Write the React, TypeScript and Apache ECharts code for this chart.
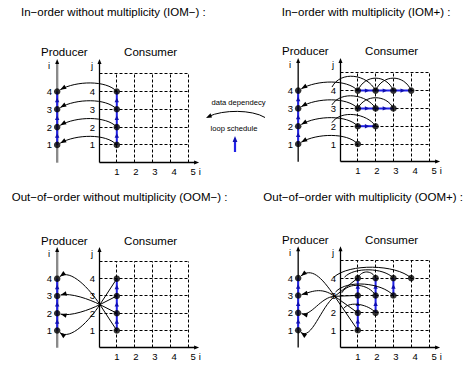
import React, { useEffect, useRef } from "react";
import * as echarts from "echarts";

const FONT = "'Liberation Sans', Arial, Helvetica, sans-serif";
const BLUE = "#2222e8";

// ---- data ----
const PRODUCER_X = -2.35;
const GRID_LEVELS = [1, 2, 3, 4, 5];
const X_TICKS = [1, 2, 3, 4, 5];
const Y_TICKS = [1, 2, 3, 4];
const PRODUCER_STEPS = [1, 2, 3, 4];

const TITLES = [
  "In\u2212order without multiplicity (IOM\u2212) :",
  "In\u2212order with multiplicity (IOM+) :",
  "Out\u2212of\u2212order without multiplicity (OOM\u2212) :",
  "Out\u2212of\u2212order with multiplicity (OOM+) :",
];

const IOM_MINUS_POINTS = [[1, 1], [1, 2], [1, 3], [1, 4]];
const IOM_PLUS_POINTS = [[1, 1], [1, 2], [2, 2], [1, 3], [2, 3], [3, 3], [1, 4], [2, 4], [3, 4], [4, 4]];
const OOM_MINUS_POINTS = [[1, 1], [1, 2], [1, 3], [1, 4]];
const OOM_PLUS_POINTS = [[1, 1], [1, 2], [1, 3], [1, 4], [2, 2], [2, 3], [2, 4], [3, 3], [3, 4], [4, 4]];

// loop schedule segments [i1, j1, i2, j2]
const IOM_MINUS_SCHEDULE = [[1, 1, 1, 4]];
const IOM_PLUS_SCHEDULE = [[1, 2, 2, 2], [1, 3, 3, 3], [1, 4, 4, 4]];
const OOM_MINUS_SCHEDULE = [[1, 1, 1, 4]];
const OOM_PLUS_SCHEDULE = [[1, 1, 1, 4], [2, 2, 2, 4], [3, 3, 3, 4]];

// producer links [consumer i, consumer j, producer i]
const IOM_MINUS_LINKS = [[1, 1, 1], [1, 2, 2], [1, 3, 3], [1, 4, 4]];
const IOM_PLUS_LINKS = [[1, 1, 1], [1, 2, 2], [1, 3, 3], [1, 4, 4]];
const OOM_MINUS_LINKS = [[1, 1, 4], [1, 2, 3], [1, 3, 2], [1, 4, 1]];
const OOM_PLUS_LINKS = [[1, 1, 4], [1, 2, 3], [1, 3, 2], [1, 4, 1]];

// crossing point of out-of-order links
const OOM_MINUS_CROSSING = [0.05, 2.5];
const OOM_PLUS_CROSSING = [-0.3, 2.95];

// forwarding arcs [from i, from j, to i, to j, height]
const IOM_PLUS_ARCS = [
  [-0.45, 2.2, 2, 2, 0.55],
  [-0.45, 3.2, 2, 3, 0.6],
  [1, 3, 3, 3, 0.6],
  [-0.45, 4.2, 2, 4, 0.7],
  [1, 4, 3, 4, 0.7],
  [2, 4, 4, 4, 0.7],
];
const OOM_PLUS_ARCS = [
  [-0.35, 4.05, 4, 4, 0.6],
  [0.25, 4.05, 3, 4, 0.45],
  [1, 4, 2, 4, 0.35],
  [0.1, 3.15, 2, 3, 0.5],
  [-0.25, 3.2, 3, 3, 0.55],
  [0.2, 2.25, 2, 2, 0.35],
];

// ---- layout ----
const UNIT = 17.8;
const GRID_W = 9 * UNIT;
const GRID_H = 8 * UNIT;

const PANELS = [
  { left: 45.6, top: 38.1, titleX: 21, titleY: 11.7, points: IOM_MINUS_POINTS, schedule: IOM_MINUS_SCHEDULE, links: IOM_MINUS_LINKS, arcs: [] as number[][], crossing: null as number[] | null, producerColor: "#8a8a8a", producerWidth: 2.4 },
  { left: 286.6, top: 37.2, titleX: 281.7, titleY: 11.7, points: IOM_PLUS_POINTS, schedule: IOM_PLUS_SCHEDULE, links: IOM_PLUS_LINKS, arcs: IOM_PLUS_ARCS, crossing: null, producerColor: "#000", producerWidth: 1.3 },
  { left: 45.6, top: 226.9, titleX: 11.7, titleY: 197, points: OOM_MINUS_POINTS, schedule: OOM_MINUS_SCHEDULE, links: OOM_MINUS_LINKS, arcs: [], crossing: OOM_MINUS_CROSSING, producerColor: "#8a8a8a", producerWidth: 2.4 },
  { left: 286.6, top: 225.9, titleX: 263.3, titleY: 197, points: OOM_PLUS_POINTS, schedule: OOM_PLUS_SCHEDULE, links: OOM_PLUS_LINKS, arcs: OOM_PLUS_ARCS, crossing: OOM_PLUS_CROSSING, producerColor: "#000", producerWidth: 1.3 },
];

const crisp = (v: number) => Math.round(v - 0.5) + 0.5;
const crispPt = (a: number[]) => [crisp(a[0]), crisp(a[1])];

function head(tip: number[], from: number[], len: number, half: number, color: string) {
  const dx = tip[0] - from[0];
  const dy = tip[1] - from[1];
  const d = Math.hypot(dx, dy) || 1;
  const ux = dx / d;
  const uy = dy / d;
  const bx = tip[0] - ux * len;
  const by = tip[1] - uy * len;
  return {
    type: "polygon",
    shape: { points: [[tip[0], tip[1]], [bx - uy * half, by + ux * half], [bx + uy * half, by - ux * half]] },
    style: { fill: color, stroke: "none" },
  };
}

function txt(x: number, y: number, text: string, size: number, align: string, valign = "middle") {
  return {
    type: "text",
    x,
    y,
    style: { text, fill: "#000", fontSize: size, fontFamily: FONT, align, verticalAlign: valign },
  };
}

function bez(a: number[], c1: number[], c2: number[], b: number[], color = "#000", w = 1) {
  return {
    type: "bezierCurve",
    shape: { x1: a[0], y1: a[1], x2: b[0], y2: b[1], cpx1: c1[0], cpy1: c1[1], cpx2: c2[0], cpy2: c2[1] },
    style: { stroke: color, fill: "none", lineWidth: w },
  };
}

function seg(a: number[], b: number[], color: string, w: number, dash?: number[]) {
  return {
    type: "line",
    shape: { x1: a[0], y1: a[1], x2: b[0], y2: b[1] },
    style: { stroke: color, fill: "none", lineWidth: w, lineDash: dash || null },
  };
}

function buildPanelSeries(g: number, p: (typeof PANELS)[number]) {
  const series: any[] = [];
  // dashed grid
  series.push({
    type: "custom",
    xAxisIndex: g,
    yAxisIndex: g,
    z: 1,
    silent: true,
    data: GRID_LEVELS.map((v) => [v]),
    renderItem: (_params: any, api: any) => {
      const v = api.value(0);
      return {
        type: "group",
        children: [
          seg(crispPt(api.coord([v, 0])), crispPt(api.coord([v, 5])), "#000", 1, [3, 2]),
          seg(crispPt(api.coord([0, v])), crispPt(api.coord([5, v])), "#000", 1, [3, 2]),
        ],
      };
    },
  });
  // axes, ticks and names
  series.push({
    type: "custom",
    xAxisIndex: g,
    yAxisIndex: g,
    z: 2,
    silent: true,
    data: [[0, 0]],
    renderItem: (_params: any, api: any) => {
      const o = crispPt(api.coord([0, 0]));
      const xe = [api.coord([5.4, 0])[0], o[1]];
      const ye = [o[0], api.coord([0, 5.6])[1]];
      const pb = api.coord([PRODUCER_X, 0]);
      const pt = api.coord([PRODUCER_X, 5.6]);
      const children: any[] = [
        seg(o, xe, "#000", 1.3),
        head([xe[0] + 4, xe[1]], xe, 5, 2, "#000"),
        seg(o, ye, "#000", 1.3),
        head([ye[0], ye[1] - 4], ye, 5, 2, "#000"),
        seg(pb, pt, p.producerColor, p.producerWidth),
        head([pt[0], pt[1] - 4], pt, 5, 2, "#000"),
      ];
      X_TICKS.forEach((v) => {
        const c = api.coord([v, 0]);
        children.push(txt(c[0] + (v - 1) * 1.3, c[1] + 8.5, String(v), 9.5, "center"));
      });
      const last = api.coord([X_TICKS[X_TICKS.length - 1], 0]);
      children.push(txt(last[0] + (X_TICKS.length - 1) * 1.3 + 6.5, last[1] + 8.5, "i", 9.5, "center"));
      Y_TICKS.forEach((v) => {
        const c = api.coord([0, v]);
        children.push(txt(c[0] - 4, c[1], String(v), 9.5, "right"));
      });
      PRODUCER_STEPS.forEach((v) => {
        const c = api.coord([PRODUCER_X, v]);
        children.push(txt(c[0] - 5, c[1], String(v), 9.5, "right"));
      });
      const pn = api.coord([PRODUCER_X, 5.45]);
      children.push(txt(pn[0] - 8, pn[1], "i", 9.5, "center"));
      const jn = api.coord([0, 5.45]);
      children.push(txt(jn[0] - 7, jn[1], "j", 9.5, "center"));
      const pl = api.coord([-1.95, 6.2]);
      children.push(txt(pl[0], pl[1], "Producer", 11.5, "center"));
      const cl = api.coord([2.9, 6.2]);
      children.push(txt(cl[0], cl[1], "Consumer", 11.5, "center"));
      return { type: "group", children };
    },
  });
  // loop schedule (blue)
  const producerSchedule = [PRODUCER_X, PRODUCER_STEPS[0], PRODUCER_X, PRODUCER_STEPS[PRODUCER_STEPS.length - 1]];
  series.push({
    type: "custom",
    xAxisIndex: g,
    yAxisIndex: g,
    z: 3,
    silent: true,
    data: [producerSchedule, ...p.schedule],
    renderItem: (_params: any, api: any) => {
      const x1 = api.value(0), y1 = api.value(1), x2 = api.value(2), y2 = api.value(3);
      const len = Math.hypot(x2 - x1, y2 - y1);
      const ux = (x2 - x1) / len, uy = (y2 - y1) / len;
      const children: any[] = [seg(api.coord([x1, y1]), api.coord([x2, y2]), BLUE, 2)];
      const n = Math.round(len);
      for (let k = 0; k < n; k++) {
        const mx = x1 + ux * (k + 0.5), my = y1 + uy * (k + 0.5);
        children.push(head(api.coord([mx + ux * 0.15, my + uy * 0.15]), api.coord([mx, my]), 4.5, 2.2, "#1010b0"));
      }
      return { type: "group", children };
    },
  });
  // forwarding arcs
  if (p.arcs.length) {
    series.push({
      type: "custom",
      xAxisIndex: g,
      yAxisIndex: g,
      z: 4,
      silent: true,
      data: p.arcs,
      renderItem: (_params: any, api: any) => {
        const x1 = api.value(0), y1 = api.value(1), x2 = api.value(2), y2 = api.value(3), h = api.value(4);
        const k = h / 0.75;
        const span = x2 - x1;
        return bez(
          api.coord([x1, y1]),
          api.coord([x1 + span * 0.2, y1 + k]),
          api.coord([x2 - span * 0.2, y2 + k]),
          api.coord([x2, y2])
        );
      },
    });
  }
  // producer links
  const crossing = p.crossing;
  series.push({
    type: "custom",
    xAxisIndex: g,
    yAxisIndex: g,
    z: 5,
    silent: true,
    data: p.links,
    renderItem: (_params: any, api: any) => {
      const ci = api.value(0), cj = api.value(1), pi = api.value(2);
      const children: any[] = [];
      let startV: number[];
      let cp1V: number[];
      let cp2V: number[];
      if (crossing) {
        startV = crossing;
        cp1V = [crossing[0] + (crossing[0] - ci) * 0.6, crossing[1] + (crossing[1] - cj) * 0.6];
        cp2V = [PRODUCER_X + 0.75, pi + (pi - 2.5) * 0.4];
        children.push(seg(api.coord([ci, cj]), api.coord(crossing), "#000", 1));
      } else {
        startV = [ci, cj];
        cp1V = [ci - 0.6, cj + 0.65];
        cp2V = [PRODUCER_X + 1.05, pi + 0.6];
      }
      const dx = cp2V[0] - PRODUCER_X, dy = cp2V[1] - pi;
      const dl = Math.hypot(dx, dy) || 1;
      const endV = [PRODUCER_X + (dx / dl) * 0.2, pi + (dy / dl) * 0.2];
      const end = api.coord(endV);
      const c2 = api.coord(cp2V);
      children.push(bez(api.coord(startV), api.coord(cp1V), c2, end));
      children.push(head(end, c2, 6, 2.3, "#000"));
      return { type: "group", children };
    },
  });
  // dots
  series.push({
    type: "scatter",
    xAxisIndex: g,
    yAxisIndex: g,
    z: 10,
    silent: true,
    symbolSize: 6.5,
    itemStyle: { color: "#000" },
    data: [...p.points, ...PRODUCER_STEPS.map((v) => [PRODUCER_X, v])],
  });
  return series;
}

function buildOption() {
  const series: any[] = [];
  PANELS.forEach((p, g) => series.push(...buildPanelSeries(g, p)));
  const graphic: any[] = PANELS.map((p, g) => ({
    type: "text",
    x: p.titleX,
    y: p.titleY,
    style: { text: TITLES[g], fill: "#000", fontSize: 11.5, fontFamily: FONT, align: "left", verticalAlign: "middle" },
  }));
  // legend
  graphic.push({
    type: "text", x: 238.5, y: 102.3,
    style: { text: "data dependecy", fill: "#000", fontSize: 7.6, fontFamily: FONT, align: "center", verticalAlign: "middle" },
  });
  graphic.push({
    type: "bezierCurve",
    shape: { x1: 265, y1: 117.5, cpx1: 252, cpy1: 109.5, cpx2: 223, cpy2: 109.5, x2: 208.5, y2: 116.5 },
    style: { stroke: "#000", fill: "none", lineWidth: 1 },
  });
  graphic.push({
    type: "polygon",
    shape: { points: [[206, 118], [210.5, 113.2], [212, 117.6]] },
    style: { fill: "#000" },
  });
  graphic.push({
    type: "text", x: 234, y: 128.3,
    style: { text: "loop schedule", fill: "#000", fontSize: 7.6, fontFamily: FONT, align: "center", verticalAlign: "middle" },
  });
  graphic.push({ type: "line", shape: { x1: 235, y1: 152, x2: 235, y2: 140 }, style: { stroke: BLUE, lineWidth: 2.2 } });
  graphic.push({ type: "polygon", shape: { points: [[235, 136], [232.6, 142], [237.4, 142]] }, style: { fill: "#1010b0" } });

  return {
    animation: false,
    backgroundColor: "#fff",
    grid: PANELS.map((p) => ({ left: p.left, top: p.top, width: GRID_W, height: GRID_H })),
    xAxis: PANELS.map((_p, g) => ({ gridIndex: g, type: "value", min: -3, max: 6, show: false })),
    yAxis: PANELS.map((_p, g) => ({ gridIndex: g, type: "value", min: -1, max: 7, show: false })),
    graphic: { elements: graphic },
    series,
  };
}

export default function App() {
  const ref = useRef<HTMLDivElement>(null);
  useEffect(() => {
    const chart = echarts.init(ref.current!, null, { renderer: "svg" });
    chart.setOption(buildOption() as any);
    return () => chart.dispose();
  }, []);
  return (
    <div
      ref={ref}
      style={{ position: "fixed", left: 0, top: 0, width: 468, height: 365, background: "#fff" }}
    />
  );
}
